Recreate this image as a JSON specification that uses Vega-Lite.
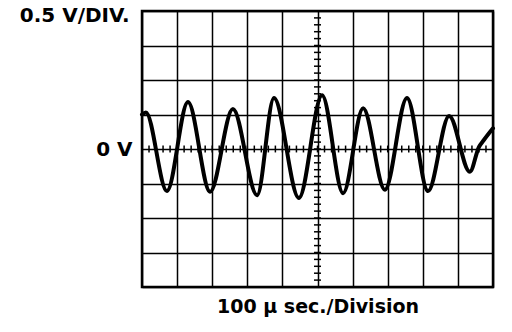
{
  "$schema": "https://vega.github.io/schema/vega-lite/v6.json",
  "width": 351,
  "height": 276,
  "autosize": {"type": "none"},
  "padding": {"left": 142, "top": 11, "right": 19, "bottom": 45},
  "background": "white",
  "config": {
    "font": "DejaVu Sans",
    "view": {"stroke": "black", "strokeWidth": 2.5},
    "axisX": {
      "values": [0, 100, 200, 300, 400, 500, 600, 700, 800, 900, 1000],
      "grid": true, "gridColor": "black", "gridWidth": 1.5, "gridOpacity": 1,
      "labels": false, "ticks": false, "domain": false,
      "titleFontSize": 19, "titleFontWeight": "bold",
      "titleColor": "black", "titleBaseline": "alphabetic", "titlePadding": 25
    },
    "axisY": {
      "values": [-2, -1.5, -1, -0.5, 0, 0.5, 1, 1.5, 2],
      "grid": true, "gridColor": "black", "gridWidth": 1.5, "gridOpacity": 1,
      "labelExpr": "datum.value === 0 ? '0 V' : ''",
      "labelFontSize": 20, "labelFontWeight": "bold", "labelColor": "black", "labelPadding": 10,
      "ticks": false, "tickSize": 0, "domain": false,
      "titleAngle": 0, "titleAlign": "right", "titleBaseline": "alphabetic",
      "titleX": -13, "titleY": 10, "titleFontSize": 20, "titleFontWeight": "bold", "titleColor": "black"
    }
  },
  "datasets": {
    "wave": [
      {"t": 0, "v": 0.50}, {"t": 11, "v": 0.53}, {"t": 71, "v": -0.61}, {"t": 131, "v": 0.68},
      {"t": 194, "v": -0.62}, {"t": 259, "v": 0.58}, {"t": 328, "v": -0.67}, {"t": 376, "v": 0.74},
      {"t": 447, "v": -0.71}, {"t": 513, "v": 0.78}, {"t": 573, "v": -0.64}, {"t": 630, "v": 0.59},
      {"t": 692, "v": -0.59}, {"t": 755, "v": 0.74}, {"t": 815, "v": -0.61}, {"t": 875, "v": 0.48},
      {"t": 934, "v": -0.33}, {"t": 960, "v": 0.03}, {"t": 974, "v": 0.13}, {"t": 1000, "v": 0.30}
    ],
    "xticks": [
      {"t": 20}, {"t": 40}, {"t": 60}, {"t": 80}, {"t": 100}, {"t": 120}, {"t": 140}, {"t": 160}, {"t": 180}, {"t": 200},
      {"t": 220}, {"t": 240}, {"t": 260}, {"t": 280}, {"t": 300}, {"t": 320}, {"t": 340}, {"t": 360}, {"t": 380}, {"t": 400},
      {"t": 420}, {"t": 440}, {"t": 460}, {"t": 480}, {"t": 500}, {"t": 520}, {"t": 540}, {"t": 560}, {"t": 580}, {"t": 600},
      {"t": 620}, {"t": 640}, {"t": 660}, {"t": 680}, {"t": 700}, {"t": 720}, {"t": 740}, {"t": 760}, {"t": 780}, {"t": 800},
      {"t": 820}, {"t": 840}, {"t": 860}, {"t": 880}, {"t": 900}, {"t": 920}, {"t": 940}, {"t": 960}, {"t": 980}
    ],
    "yticks": [
      {"v": -1.9}, {"v": -1.8}, {"v": -1.7}, {"v": -1.6}, {"v": -1.5}, {"v": -1.4}, {"v": -1.3}, {"v": -1.2}, {"v": -1.1}, {"v": -1.0},
      {"v": -0.9}, {"v": -0.8}, {"v": -0.7}, {"v": -0.6}, {"v": -0.5}, {"v": -0.4}, {"v": -0.3}, {"v": -0.2}, {"v": -0.1}, {"v": 0},
      {"v": 0.1}, {"v": 0.2}, {"v": 0.3}, {"v": 0.4}, {"v": 0.5}, {"v": 0.6}, {"v": 0.7}, {"v": 0.8}, {"v": 0.9}, {"v": 1.0},
      {"v": 1.1}, {"v": 1.2}, {"v": 1.3}, {"v": 1.4}, {"v": 1.5}, {"v": 1.6}, {"v": 1.7}, {"v": 1.8}, {"v": 1.9}
    ]
  },
  "layer": [
    {
      "data": {"name": "xticks"},
      "mark": {"type": "rule", "strokeWidth": 1.5, "color": "black"},
      "encoding": {
        "x": {"field": "t", "type": "quantitative", "scale": {"domain": [0, 1000], "nice": false, "zero": false}, "title": "100 μ sec./Division"},
        "y": {"datum": -0.05, "type": "quantitative", "scale": {"domain": [-2, 2], "nice": false, "zero": false}, "title": "0.5 V/DIV."},
        "y2": {"datum": 0.05}
      }
    },
    {
      "data": {"name": "yticks"},
      "mark": {"type": "rule", "strokeWidth": 1.5, "color": "black"},
      "encoding": {
        "y": {"field": "v", "type": "quantitative", "title": "0.5 V/DIV."},
        "x": {"datum": 490, "type": "quantitative", "title": "100 μ sec./Division"},
        "x2": {"datum": 510}
      }
    },
    {
      "data": {"name": "wave"},
      "mark": {"type": "line", "interpolate": "monotone", "strokeWidth": 4, "color": "black", "strokeCap": "round", "strokeJoin": "round"},
      "encoding": {
        "x": {"field": "t", "type": "quantitative", "title": "100 μ sec./Division"},
        "y": {"field": "v", "type": "quantitative", "title": "0.5 V/DIV."}
      }
    }
  ]
}
